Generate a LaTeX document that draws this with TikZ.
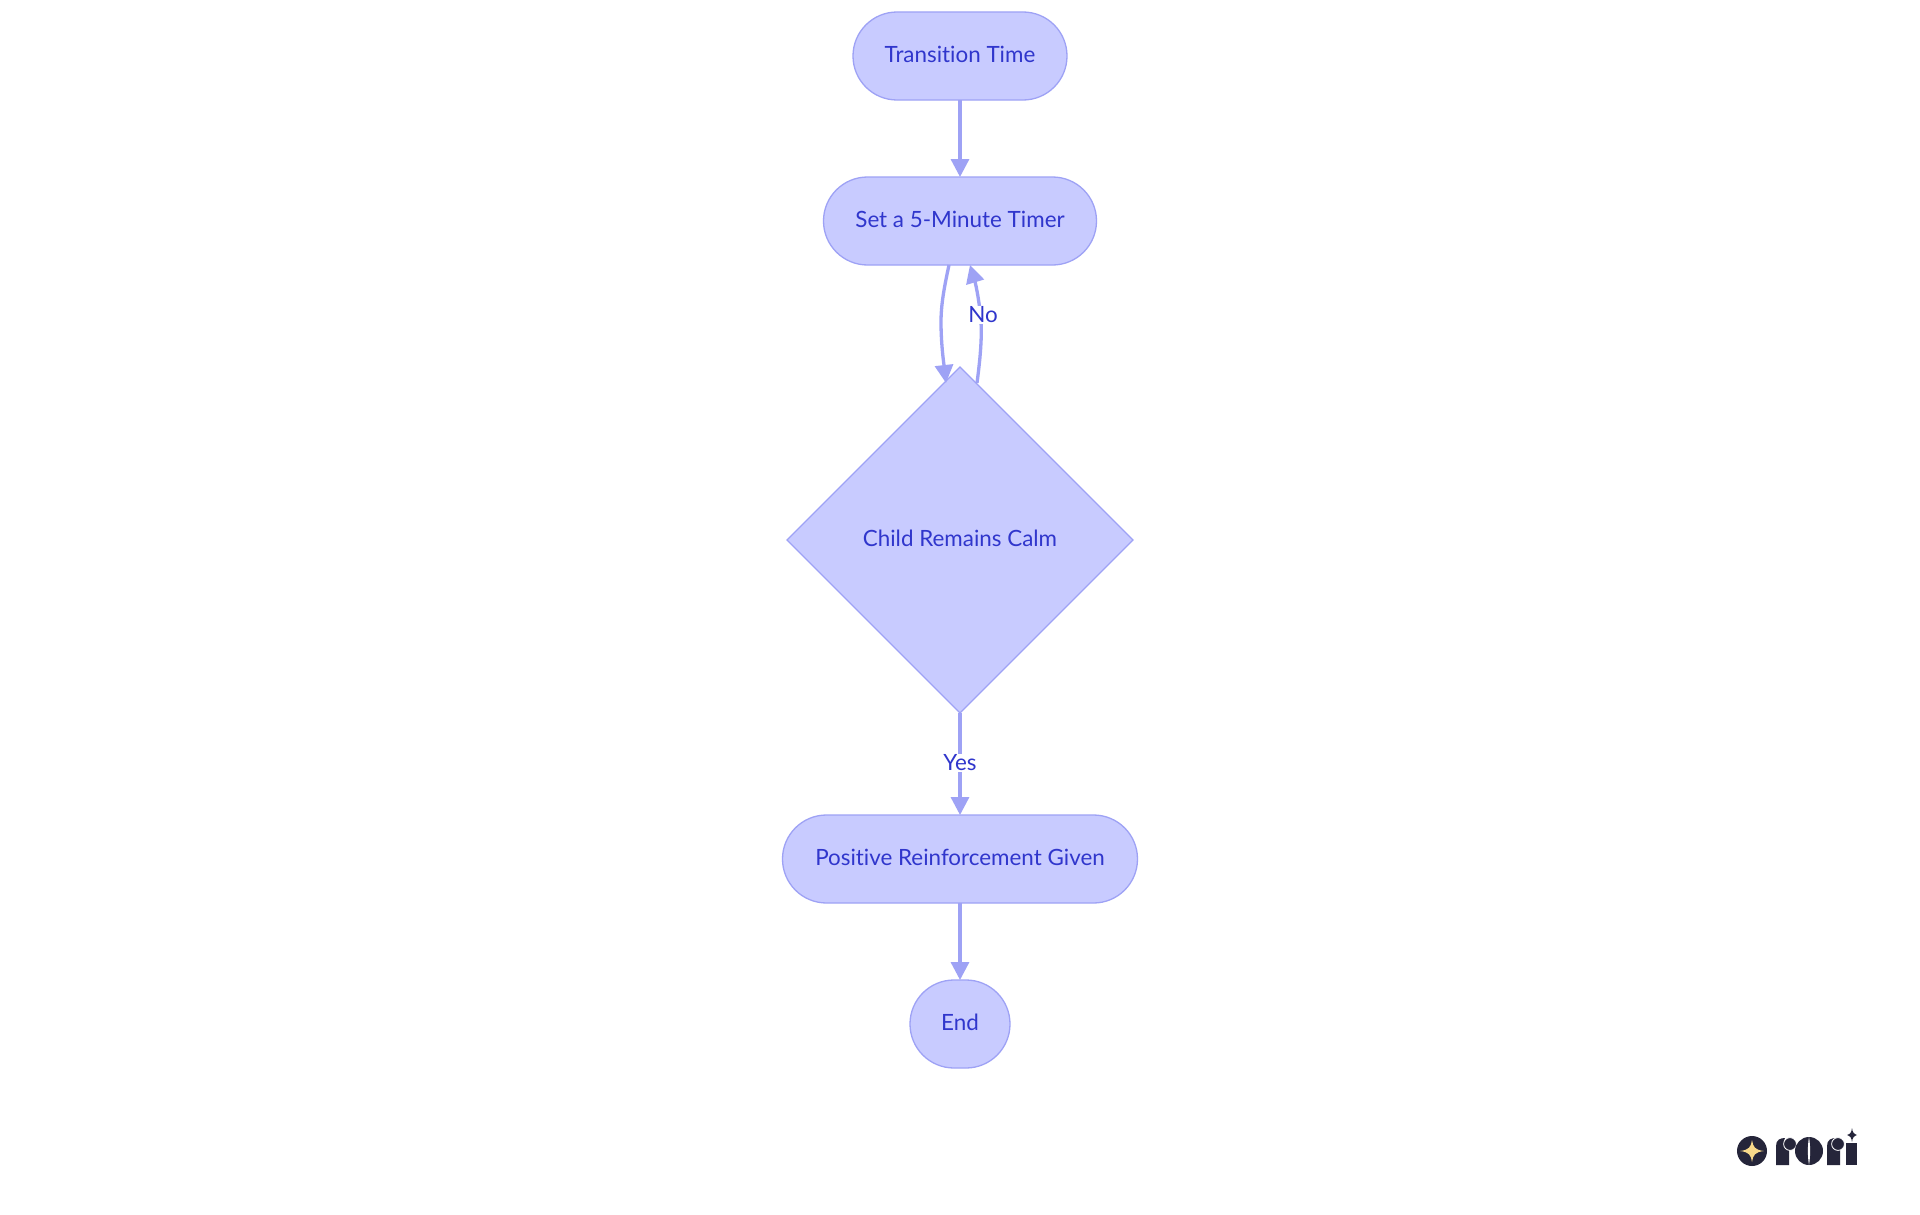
\documentclass[tikz,border=0pt]{standalone}
\usepackage{fontspec}
\setmainfont{Lato}[Ligatures=NoCommon]
\usetikzlibrary{arrows.meta,shapes.geometric}
\definecolor{nodefill}{RGB}{200,203,255}
\definecolor{nodeline}{RGB}{158,162,245}
\definecolor{nodetext}{RGB}{48,54,204}
\definecolor{logodark}{RGB}{37,37,58}
\definecolor{logostar}{RGB}{248,217,138}
\tikzset{
  x=1pt,y=-1pt,
  base/.style={draw=nodeline,fill=nodefill,text=nodetext,line width=1.3pt,inner sep=0pt,outer sep=0pt,text height=16pt,text depth=3.4pt,font=\fontsize{22.4}{26}\selectfont},
  pill/.style={base,rectangle,rounded corners=44pt,minimum height=88pt},
  decision/.style={base,diamond,minimum width=346pt,minimum height=346pt,aspect=1},
  flow/.style={draw=nodeline,line width=3.3pt,-{Triangle[length=18pt,width=18pt,fill=nodeline]}},
  edgelabel/.style={fill=white,text=nodetext,inner sep=1pt,font=\fontsize{22.4}{26}\selectfont},
  logoball/.style={fill=logodark,draw=white,line width=0.8pt},
}
\begin{document}
\begin{tikzpicture}
\useasboundingbox (0,0) rectangle (1920,1215);
\fill[white] (0,0) rectangle (1920,1215);
\node[pill,minimum width=214pt] (start) at (960,56) {Transition Time};
\node[pill,minimum width=273pt] (timer) at (960,221) {Set a 5-Minute Timer};
\node[decision] (calm) at (960,540) {Child Remains Calm};
\node[pill,minimum width=355pt] (reinf) at (960,859) {Positive Reinforcement Given};
\node[pill,minimum width=100pt] (finish) at (960,1024) {End};
\draw[flow] (start.south) -- (timer.north);
\draw[flow] ([xshift=-11pt]timer.south) .. controls (944,288) and (941,305) .. (941,322) .. controls (941,345) and (944,365) .. ([xshift=-14pt,yshift=-16pt]calm.north);
\draw[flow] ([xshift=17pt,yshift=-16pt]calm.north) .. controls (980,360) and (982,340) .. (981,322) .. controls (980,305) and (976,285) .. ([xshift=10pt]timer.south);
\node[edgelabel] (nolabel) at (983,315) {No};
\draw[flow] (calm.south) -- (reinf.north);
\node[edgelabel] (yeslabel) at (960,763) {Yes};
\draw[flow] (reinf.south) -- (finish.north);
% logo
\fill[logodark] (1752,1151) circle (15);
\fill[logostar] (1752,1140) .. controls (1753,1147) and (1755,1150) .. (1764,1151) .. controls (1755,1152) and (1753,1155) .. (1752,1162) .. controls (1751,1155) and (1749,1152) .. (1740,1151) .. controls (1749,1150) and (1751,1147) .. (1752,1140) -- cycle;
% r
\fill[logodark] (1776,1165) -- (1776,1146) .. controls (1776,1140) and (1780,1138) .. (1785,1138) .. controls (1782,1142) and (1785,1147) .. (1789,1148) -- (1789,1165) -- cycle;
\path[logoball] (1790,1144) circle (6.4);
% o
\fill[logodark] (1809,1151) circle (14);
\fill[white] (1809,1137) .. controls (1807.5,1146) and (1807.5,1156) .. (1809,1165) .. controls (1810.5,1156) and (1810.5,1146) .. (1809,1137) -- cycle;
% r
\fill[logodark] (1827,1165) -- (1827,1146) .. controls (1827,1140) and (1831,1138) .. (1836,1138) .. controls (1833,1142) and (1836,1147) .. (1840,1148) -- (1840,1165) -- cycle;
\path[logoball] (1838,1144) circle (6.4);
% i
\fill[logodark] (1846,1143) -- (1857,1143) -- (1857,1165) -- (1846,1165) -- cycle;
\fill[logodark] (1852,1128) .. controls (1852.5,1132) and (1853.5,1134) .. (1857,1135) .. controls (1853.5,1136) and (1852.5,1138) .. (1852,1142) .. controls (1851.5,1138) and (1850.5,1136) .. (1847,1135) .. controls (1850.5,1134) and (1851.5,1132) .. (1852,1128) -- cycle;
\end{tikzpicture}
\end{document}
